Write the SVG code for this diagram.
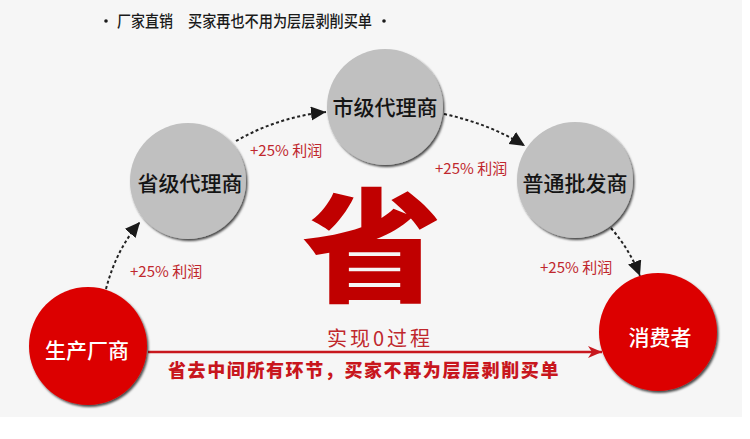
<svg xmlns="http://www.w3.org/2000/svg" width="750" height="439" viewBox="0 0 750 439">
<defs>
<style>
.cjk{font-family:"Noto Sans CJK SC","Liberation Sans",sans-serif;}
.gray{fill:#c0c0c0;filter:url(#sh);}
.red{fill:#dc0000;filter:url(#sh);}
.nl{font-size:21px;text-anchor:middle;dominant-baseline:central;font-weight:500;}
.dark{fill:#141414;}
.white{fill:#ffffff;}
.dash{fill:none;stroke:#222;stroke-width:2;stroke-dasharray:3 2.5;}
.pct{font-size:15px;fill:#c0272d;}
.ttl{font-size:16px;fill:#1a1a1a;font-weight:500;}
</style>
<filter id="sh" x="-20%" y="-20%" width="140%" height="140%">
<feDropShadow dx="1.5" dy="2" stdDeviation="1" flood-color="#000" flood-opacity="0.7"/>
</filter>
<marker id="ah" markerUnits="userSpaceOnUse" markerWidth="18" markerHeight="16" refX="15" refY="7" orient="auto">
<path d="M0,0 L15,7 L0,14 Z" fill="#1a1a1a"/>
</marker>
<marker id="ra" markerUnits="userSpaceOnUse" markerWidth="16" markerHeight="12" refX="14" refY="6" orient="auto">
<path d="M0,0 L14,6 L0,12 L4,6 Z" fill="#c8181e"/>
</marker>
</defs>
<rect x="0" y="0" width="750" height="439" fill="#ffffff"/>
<rect x="0" y="0" width="742" height="417" fill="#f6f6f6"/>
<g id="title">
<circle cx="106" cy="21" r="1.8" fill="#1a1a1a"/>
<text class="cjk ttl" x="117" y="27" textLength="56" lengthAdjust="spacingAndGlyphs">厂家直销</text>
<text class="cjk ttl" x="188" y="27" textLength="184" lengthAdjust="spacingAndGlyphs">买家再也不用为层层剥削买单</text>
<circle cx="384" cy="21" r="1.8" fill="#1a1a1a"/>
</g>
<g id="connectors">
<path class="dash" d="M106,289 Q116,250 140,222" marker-end="url(#ah)"/>
<path class="dash" d="M236,141 Q278,117 326,112" marker-end="url(#ah)"/>
<path class="dash" d="M444,114 Q490,124 525,146" marker-end="url(#ah)"/>
<path class="dash" d="M611,228 Q630,250 640,276" marker-end="url(#ah)"/>
<path d="M148,352 L602,352" stroke="#c8181e" stroke-width="2.5" fill="none" marker-end="url(#ra)"/>
</g>
<g id="labels">
<text class="cjk pct" x="130" y="277">+25% 利润</text>
<text class="cjk pct" x="250" y="156">+25% 利润</text>
<text class="cjk pct" x="435" y="174">+25% 利润</text>
<text class="cjk pct" x="540" y="273">+25% 利润</text>
</g>
<g id="node-shengji">
<circle class="gray" cx="188" cy="181" r="58"/>
<text class="cjk nl dark" x="190" y="182">省级代理商</text>
</g>
<g id="node-shiji">
<circle class="gray" cx="385" cy="107" r="58"/>
<text class="cjk nl dark" x="385" y="106">市级代理商</text>
</g>
<g id="node-putong">
<circle class="gray" cx="575" cy="180" r="58"/>
<text class="cjk nl dark" x="575" y="182">普通批发商</text>
</g>
<g id="node-shengchan">
<circle class="red" cx="88" cy="346" r="59"/>
<text class="cjk nl white" x="87" y="349">生产厂商</text>
</g>
<g id="node-xiaofei">
<circle class="red" cx="658" cy="332" r="59"/>
<text class="cjk nl white" x="660" y="336">消费者</text>
</g>
<g id="center">
<text class="cjk" transform="translate(372,292) scale(1,0.88)" x="0" y="0" font-size="140" font-weight="900" fill="#c00000" text-anchor="middle">省</text>
<text class="cjk" x="380" y="346" font-size="20" fill="#c0272d" text-anchor="middle" letter-spacing="3">实现0过程</text>
<text class="cjk" x="168" y="377" font-size="18" font-weight="900" fill="#c8161d" letter-spacing="1.6">省去中间所有环节，买家不再为层层剥削买单</text>
</g>
</svg>
